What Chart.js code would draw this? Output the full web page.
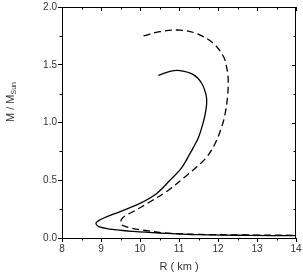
<!DOCTYPE html>
<html><head><meta charset="utf-8">
<script src="https://cdn.jsdelivr.net/npm/chart.js@4"></script>
<style>html,body{margin:0;padding:0;background:#fff}#c{display:block}</style>
</head><body>
<canvas id="c" width="303" height="276"></canvas>
<script>
const radiusSolid = [10.47,10.77,11.03,11.37,11.58,11.69,11.71,11.67,11.61,11.50,11.37,11.28,11.07,10.77,10.43,10.0,9.49,9.06,8.93,8.87,8.93,9.23,9.83,10.51,11.54,12.82,14.0];
const massSolid   = [1.408,1.443,1.449,1.414,1.34,1.243,1.171,1.07,0.986,0.871,0.785,0.73,0.61,0.50,0.386,0.30,0.229,0.171,0.148,0.129,0.10,0.077,0.057,0.043,0.029,0.023,0.020];
const radiusDashed = [10.09,10.51,11.03,11.45,11.88,12.14,12.22,12.26,12.25,12.18,12.09,11.92,11.71,11.45,11.15,10.73,10.26,9.83,9.57,9.50,9.55,9.74,10.0,10.68,11.54,12.82,14.0];
const massDashed   = [1.75,1.786,1.80,1.77,1.686,1.571,1.48,1.385,1.243,1.07,0.957,0.814,0.70,0.614,0.529,0.414,0.314,0.229,0.18,0.135,0.11,0.088,0.071,0.043,0.031,0.026,0.023];
const xTicks = [8,9,10,11,12,13,14];
const yTicks = [0.0,0.5,1.0,1.5,2.0];

const toPts = (xs, ys) => xs.map((x, i) => ({x, y: ys[i]}));
const FONT = '"Liberation Sans", Arial, sans-serif';

const extras = {
  id: 'extras',
  afterDraw(chart) {
    const ctx = chart.ctx, xs = chart.scales.x, ys = chart.scales.y, a = chart.chartArea;
    ctx.save();
    ctx.strokeStyle = '#000'; ctx.lineWidth = 1;
    ctx.beginPath();
    ctx.moveTo(a.left, a.top + 0.5); ctx.lineTo(a.right, a.top + 0.5);
    ctx.moveTo(a.right - 0.5, a.top); ctx.lineTo(a.right - 0.5, a.bottom);
    ctx.stroke();
    ctx.beginPath();
    for (let v = 8; v <= 14.001; v += 0.5) {
      const p = Math.round(xs.getPixelForValue(v)) + 0.5;
      const major = Math.abs(v - Math.round(v)) < 1e-6;
      if (!major) { ctx.moveTo(p, a.bottom); ctx.lineTo(p, a.bottom + 2.5); }
      ctx.moveTo(p, a.top); ctx.lineTo(p, a.top + (major ? 4 : 2.5));
    }
    for (let v = 0; v <= 2.001; v += 0.25) {
      const p = Math.round(ys.getPixelForValue(v)) + 0.5;
      const major = Math.abs(v * 2 - Math.round(v * 2)) < 1e-6;
      if (!major) { ctx.moveTo(a.left, p); ctx.lineTo(a.left - 2.5, p); }
      ctx.moveTo(a.right, p); ctx.lineTo(a.right - (major ? 4 : 2.5), p);
    }
    ctx.stroke();
    ctx.fillStyle = '#333';
    ctx.font = '11px ' + FONT;
    ctx.textAlign = 'center'; ctx.textBaseline = 'middle';
    ctx.fillText('R ( km )', (a.left + a.right) / 2, 267);
    ctx.translate(11, 102);
    ctx.rotate(-Math.PI / 2);
    const main = 'M / M', sub = 'Sun';
    ctx.font = '11px ' + FONT;
    const w1 = ctx.measureText(main).width;
    ctx.font = '7px ' + FONT;
    const w2 = ctx.measureText(sub).width;
    const start = -(w1 + w2) / 2;
    ctx.textAlign = 'left';
    ctx.font = '11px ' + FONT;
    ctx.fillText(main, start, 0);
    ctx.font = '7px ' + FONT;
    ctx.fillText(sub, start + w1, 3);
    ctx.restore();
  }
};

new Chart(document.getElementById('c'), {
  type: 'scatter',
  data: {
    datasets: [
      { data: toPts(radiusSolid, massSolid), showLine: true, borderColor: '#000', borderWidth: 1.3, pointRadius: 0, tension: 0.35, fill: false },
      { data: toPts(radiusDashed, massDashed), showLine: true, borderColor: '#000', borderWidth: 1.3, borderDash: [7, 4], pointRadius: 0, tension: 0.35, fill: false }
    ]
  },
  options: {
    responsive: false, animation: false,
    layout: { padding: { top: 5, right: 7, left: 0, bottom: 0 } },
    plugins: { legend: { display: false }, tooltip: { enabled: false } },
    scales: {
      x: {
        type: 'linear', min: 8, max: 14,
        afterBuildTicks: s => { s.ticks = xTicks.map(v => ({value: v})); },
        afterFit: s => { s.height = 38; },
        grid: { drawOnChartArea: false, tickLength: 4, color: '#000' },
        border: { color: '#000', width: 1 },
        ticks: { color: '#333', font: { family: FONT, size: 10 }, padding: 1, maxRotation: 0,
                 callback: v => String(v) }
      },
      y: {
        type: 'linear', min: 0, max: 2,
        afterBuildTicks: s => { s.ticks = yTicks.map(v => ({value: v})); },
        afterFit: s => { s.width = 62; },
        grid: { drawOnChartArea: false, tickLength: 4, color: '#000' },
        border: { color: '#000', width: 1 },
        ticks: { color: '#333', font: { family: FONT, size: 10 }, padding: 1,
                 callback: v => Number(v).toFixed(1) }
      }
    }
  },
  plugins: [extras]
});
</script>
</body></html>
